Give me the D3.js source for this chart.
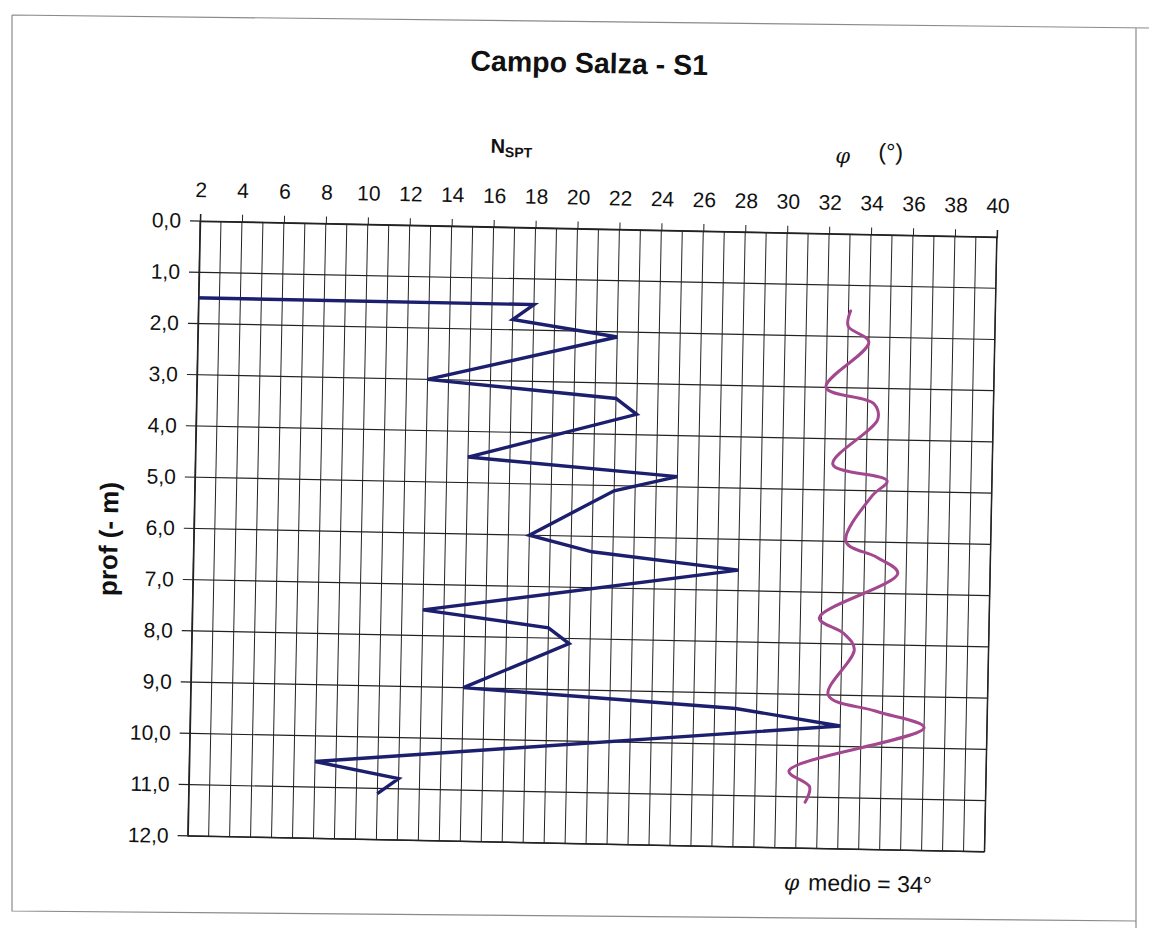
<!DOCTYPE html>
<html>
<head>
<meta charset="utf-8">
<script src="https://cdn.jsdelivr.net/npm/d3@7/dist/d3.min.js"></script>
<style>
  html, body { margin: 0; padding: 0; background: #fff; }
  svg { display: block; }
  text { font-family: "Liberation Sans", Arial, sans-serif; fill: #111; }
</style>
</head>
<body>
<svg id="chart" width="1149" height="928"></svg>
<script>
// Depth of each SPT reading (m) and the blow count N_SPT
const sptDepth = [1.5, 1.5, 1.8, 2.1, 3.0, 3.3, 3.6, 4.5, 4.8, 5.1, 6.0, 6.3, 6.6, 7.5, 7.8, 8.1, 9.0, 9.3, 9.6, 10.5, 10.8, 11.1];
const sptN     = [0, 18, 17, 22, 13, 22, 23, 15, 25, 22, 18, 21, 28, 13, 19, 20, 15, 28, 33, 8, 12, 11];

// Friction angle φ (°) at the same depths
const phiDepth = [1.5, 1.8, 2.1, 3.0, 3.3, 3.6, 4.5, 4.8, 5.1, 6.0, 6.3, 6.6, 7.5, 7.8, 8.1, 9.0, 9.3, 9.6, 10.5, 10.8, 11.1];
const phiDeg   = [33.1, 33.0, 34.0, 32.0, 34.3, 34.5, 32.4, 35.0, 34.3, 33.1, 34.6, 35.6, 31.9, 33.1, 33.6, 32.4, 34.7, 37.0, 30.6, 31.6, 31.4];

// Axis ticks
const xTicks = [2, 4, 6, 8, 10, 12, 14, 16, 18, 20, 22, 24, 26, 28, 30, 32, 34, 36, 38, 40];
const xGrid  = d3.range(2, 41, 1);
const yTicks = [0, 1, 2, 3, 4, 5, 6, 7, 8, 9, 10, 11, 12];

const titleText = "Campo Salza - S1";
const phiMean = 34;

const svg = d3.select("#chart");

// sheet border
svg.append("path")
  .attr("d", "M12,15 L1149,28 M12,15 L12,911 L1136,921 L1136,928 M1136,28 L1136,921")
  .attr("fill", "none").attr("stroke", "#8a8a8a").attr("stroke-width", 1.2);

const plotLeft = 200, plotTop = 221, W = 797, H = 615;
const tilt = 1.15;

const g = svg.append("g")
  .attr("transform", `rotate(${tilt},${plotLeft},${plotTop}) translate(${plotLeft},${plotTop})`);

const x = d3.scaleLinear().domain([2, 40]).range([0, W]);
const y = d3.scaleLinear().domain([0, 12]).range([0, H]);

// title
g.append("text")
  .attr("x", 386).attr("y", -156)
  .attr("text-anchor", "middle")
  .style("font-size", "28.5px").style("font-weight", "bold")
  .text(titleText);

// grid
g.append("g").selectAll("line").data(xGrid).join("line")
  .attr("x1", d => x(d)).attr("x2", d => x(d))
  .attr("y1", 0).attr("y2", H)
  .attr("stroke", "#222").attr("stroke-width", 1);
g.append("g").selectAll("line").data(yTicks).join("line")
  .attr("x1", -10).attr("x2", W)
  .attr("y1", d => y(d)).attr("y2", d => y(d))
  .attr("stroke", "#222").attr("stroke-width", 1.2);

// top axis with labelled ticks
const xAxis = d3.axisTop(x).tickValues(xTicks).tickSize(7).tickPadding(17)
  .tickFormat(d3.format("d"));
const xa = g.append("g").call(xAxis);
xa.select(".domain").attr("stroke", "#222").attr("stroke-width", 1.5);
xa.selectAll(".tick line").attr("stroke", "#222");
xa.selectAll(".tick text").style("font-size", "21px").style("font-family", "Liberation Sans, Arial, sans-serif").attr("fill", "#111");

// left axis
const yAxis = d3.axisLeft(y).tickValues(yTicks).tickSize(0).tickPadding(19)
  .tickFormat(d => d3.format(".1f")(d).replace(".", ","));
const ya = g.append("g").call(yAxis);
ya.select(".domain").attr("stroke", "#222").attr("stroke-width", 1.5);
ya.selectAll(".tick text").style("font-size", "21px").style("font-family", "Liberation Sans, Arial, sans-serif").attr("fill", "#111");

// right and bottom frame
g.append("line").attr("x1", W).attr("x2", W).attr("y1", 0).attr("y2", H).attr("stroke", "#222").attr("stroke-width", 1.5);
g.append("line").attr("x1", 0).attr("x2", W).attr("y1", H).attr("y2", H).attr("stroke", "#222").attr("stroke-width", 1.5);

// axis titles
const nLab = g.append("text").attr("x", 289).attr("y", -74)
  .style("font-size", "20px").style("font-weight", "bold");
nLab.append("tspan").text("N");
nLab.append("tspan").attr("dy", 4).style("font-size", "14px").text("SPT");

g.append("text").attr("x", 634).attr("y", -71)
  .style("font-family", "DejaVu Serif, serif").style("font-style", "italic")
  .style("font-size", "21px").text("φ");
g.append("text").attr("x", 677).attr("y", -75)
  .style("font-size", "23px").text("(°)");

g.append("text")
  .attr("transform", `translate(-76,${H * 0.52}) rotate(-90)`)
  .attr("text-anchor", "middle")
  .style("font-size", "26px").style("font-weight", "bold")
  .text("prof (- m)");

const mean = g.append("text").attr("x", 597).attr("y", 657);
mean.append("tspan").style("font-family", "DejaVu Serif, serif").style("font-style", "italic")
  .style("font-size", "22px").text("φ");
mean.append("tspan").attr("dx", 9).style("font-size", "23px").text(`medio = ${phiMean}°`);

// data lines, clipped to the plot area
g.append("clipPath").attr("id", "plotClip")
  .append("rect").attr("x", 0).attr("y", 0).attr("width", W).attr("height", H);

const sptLine = d3.line().x(d => x(d[0])).y(d => y(d[1]));
g.append("path")
  .datum(sptN.map((v, i) => [v, sptDepth[i]]))
  .attr("clip-path", "url(#plotClip)")
  .attr("d", sptLine)
  .attr("fill", "none").attr("stroke", "#1b1f6e").attr("stroke-width", 3.4)
  .attr("stroke-linejoin", "miter");

const phiLine = d3.line().x(d => x(d[0])).y(d => y(d[1])).curve(d3.curveCatmullRom.alpha(0.5));
g.append("path")
  .datum(phiDeg.map((v, i) => [v, phiDepth[i]]))
  .attr("clip-path", "url(#plotClip)")
  .attr("d", phiLine)
  .attr("fill", "none").attr("stroke", "#a3488f").attr("stroke-width", 3)
  .attr("stroke-linecap", "round");
</script>
</body>
</html>
